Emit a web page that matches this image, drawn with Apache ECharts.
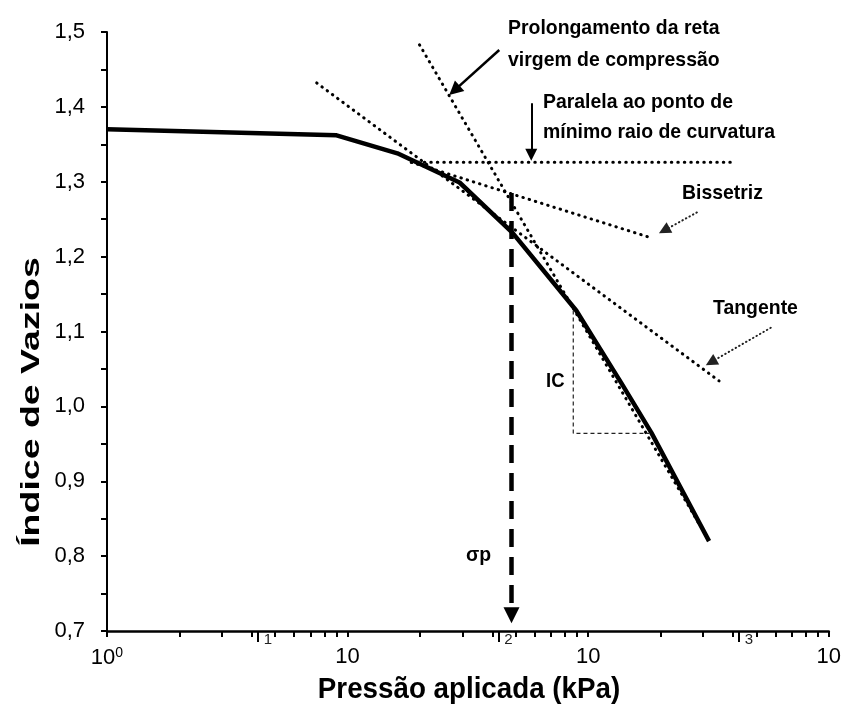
<!DOCTYPE html>
<html>
<head>
<meta charset="utf-8">
<script src="https://cdn.jsdelivr.net/npm/echarts@6/dist/echarts.min.js"></script>
<style>
  html, body { margin: 0; padding: 0; background: #fff; }
  #chart { width: 844px; height: 713px; }
</style>
</head>
<body>
<div id="chart"></div>
<script>
// Curva de compressão edométrica: pressão aplicada (kPa) x índice de vazios
const pressao = [1, 9, 16.1, 29.2, 48.4, 89.2, 138, 183, 318];
const indiceVazios = [1.370, 1.362, 1.338, 1.299, 1.232, 1.128, 1.030, 0.965, 0.820];

// Construções do método de Casagrande
const retaVirgemX = [19.9, 289];
const retaVirgemY = [1.483, 0.843];
const paralelaX = [18.4, 404];
const paralelaY = [1.326, 1.326];
const tangenteX = [7.44, 350];
const tangenteY = [1.432, 1.034];
const bissetrizX = [18.4, 179];
const bissetrizY = [1.326, 1.226];

// Tensão de pré-adensamento (sigma p)
const sigmaP = 48;
const sigmaPTopo = 1.285;
const sigmaPBase = 0.721;

// Triângulo do índice de compressão (IC)
const icX = [86.7, 86.7, 179];
const icY = [1.128, 0.964, 0.964];

// Setas das legendas
const setaProlongX = [42.7, 27.8];
const setaProlongY = [1.476, 1.422];
const setaParalelaX = [58, 58];
const setaParalelaY = [1.405, 1.336];
const setaBissetrizX = [283, 207];
const setaBissetrizY = [1.259, 1.235];
const setaTangenteX = [574, 324];
const setaTangenteY = [1.105, 1.059];

// Eixos
const xDecadas = [1, 10, 100, 1000];
const xExpoentes = ['0', '1', '2', '3'];
const xMenores = [2, 3, 4, 5, 6, 7, 8, 9, 20, 30, 40, 50, 60, 70, 80, 90, 200, 300, 400, 500, 600, 700, 800, 900];
const xExpoenteMarcas = [4.23, 42.3, 423];
const yMin = 0.7, yMax = 1.5, yPasso = 0.1;

const pares = (xs, ys) => xs.map((x, i) => [x, ys[i]]);

const pontilhado = { color: '#000', width: 3, type: [0.5, 6], cap: 'round' };
const pontilhadoFino = { color: '#222', width: 2, type: [0.5, 3.5], cap: 'round' };

function seta(xs, ys, estilo, tam) {
  return {
    type: 'lines', coordinateSystem: 'cartesian2d', silent: true, z: 5,
    symbol: ['none', 'triangle'], symbolSize: tam,
    lineStyle: Object.assign({ opacity: 1, curveness: 0 }, estilo),
    itemStyle: { color: estilo.color },
    data: [{ coords: pares(xs, ys) }]
  };
}

function reta(xs, ys, estilo) {
  return {
    type: 'line', data: pares(xs, ys), showSymbol: false, silent: true,
    lineStyle: estilo, z: 3
  };
}

const fonte = 'Liberation Sans, Arial, sans-serif';
const estreito = 0.925;

// Texto de anotação com a largura levemente condensada
function texto(x, y, conteudo, tamanho, alturaLinha) {
  return {
    type: 'text', x: x, y: y, scaleX: estreito, silent: true, z: 10,
    style: {
      text: conteudo, font: 'bold ' + tamanho + 'px ' + fonte, fill: '#000',
      align: 'left', verticalAlign: 'top', lineHeight: alturaLinha
    }
  };
}

const chart = echarts.init(document.getElementById('chart'));

chart.setOption({
  animation: false,
  backgroundColor: '#fff',
  grid: { left: 107, right: 14, top: 32, bottom: 82 },
  xAxis: [
    {
      type: 'log', min: 1, max: 1000, logBase: 10,
      axisLine: { lineStyle: { color: '#000', width: 2.5 } },
      axisTick: { show: true, length: 6, lineStyle: { color: '#000', width: 2 },
        customValues: xDecadas.concat(xMenores) },
      minorTick: { show: false },
      splitLine: { show: false },
      axisLabel: {
        customValues: xDecadas, margin: 15,
        formatter: v => (v === 1 ? '10{s|' + xExpoentes[0] + '}' : '10'),
        color: '#000', fontSize: 22, fontFamily: fonte,
        rich: { s: { fontSize: 14, color: '#000', fontFamily: fonte, verticalAlign: 'top', padding: [0, 0, 10, 0] } }
      }
    },
    {
      type: 'log', min: 1, max: 1000, logBase: 10, position: 'bottom',
      axisLine: { show: false },
      axisTick: { show: true, length: 11, lineStyle: { color: '#000', width: 2 }, customValues: xExpoenteMarcas },
      splitLine: { show: false },
      axisLabel: {
        show: true, customValues: xExpoenteMarcas, margin: 1, align: 'left', padding: [0, 0, 0, 6],
        hideOverlap: false, showMinLabel: true, showMaxLabel: true,
        formatter: v => xExpoentes[Math.floor(Math.log10(v)) + 1],
        color: '#222', fontSize: 15, fontFamily: fonte
      }
    }
  ],
  yAxis: {
    type: 'value', min: yMin, max: yMax, interval: yPasso,
    axisLine: { show: true, lineStyle: { color: '#000', width: 2 } },
    axisTick: { show: true, length: 6, lineStyle: { color: '#000', width: 2 } },
    minorTick: { show: true, splitNumber: 2, length: 6, lineStyle: { color: '#000', width: 2 } },
    splitLine: { show: false },
    axisLabel: {
      margin: 22, color: '#000', fontSize: 22, fontFamily: fonte,
      formatter: v => v.toFixed(1).replace('.', ',')
    }
  },
  series: [
    reta(paralelaX, paralelaY, pontilhado),
    reta(tangenteX, tangenteY, pontilhado),
    reta(bissetrizX, bissetrizY, pontilhado),
    reta(retaVirgemX, retaVirgemY, pontilhado),
    {
      type: 'line', data: pares(pressao, indiceVazios), showSymbol: false, silent: true, z: 4,
      lineStyle: { color: '#000', width: 4.5, join: 'round' }
    },
    reta(icX, icY, { color: '#222', width: 1.2, type: [4, 3] }),
    seta([sigmaP, sigmaP], [sigmaPTopo, sigmaPBase], { color: '#000', width: 4.5, type: [18, 10] }, [15, 16]),
    seta(setaProlongX, setaProlongY, { color: '#000', width: 2.5, type: 'solid' }, [10, 14]),
    seta(setaParalelaX, setaParalelaY, { color: '#000', width: 2, type: 'solid' }, [9, 12]),
    seta(setaBissetrizX, setaBissetrizY, pontilhadoFino, [10, 12]),
    seta(setaTangenteX, setaTangenteY, pontilhadoFino, [10, 12])
  ],
  graphic: [
    texto(508, 12, 'Prolongamento da reta\nvirgem de compressão', 21, 32),
    texto(543, 87, 'Paralela ao ponto de\nmínimo raio de curvatura', 21, 30),
    texto(682, 180, 'Bissetriz', 21, 26),
    texto(713, 295, 'Tangente', 21, 26),
    texto(546, 368, 'IC', 20, 26),
    texto(466, 542, 'σp', 21, 26),
    {
      type: 'text', x: 469, y: 690, scaleX: estreito, silent: true,
      style: { text: 'Pressão aplicada (kPa)', font: 'bold 30px ' + fonte, fill: '#000', align: 'center', verticalAlign: 'middle' }
    },
    {
      type: 'text', x: 32, y: 402, rotation: Math.PI / 2, scaleX: 1.25, scaleY: 0.85, silent: true,
      style: { text: 'Índice de Vazios', font: 'bold 30px ' + fonte, fill: '#000', align: 'center', verticalAlign: 'middle' }
    }
  ]
});
</script>
</body>
</html>
